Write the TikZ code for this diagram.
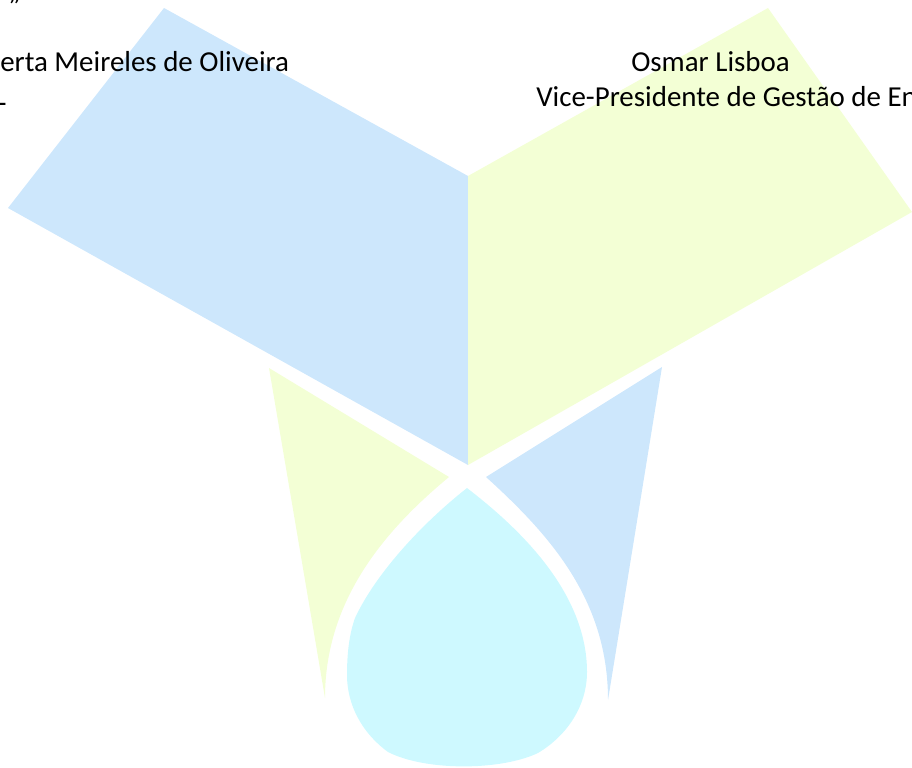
\documentclass[tikz,border=0pt]{standalone}
\usepackage{fontspec}
\setmainfont{Carlito}
\definecolor{softblue}{HTML}{CDE7FC}
\definecolor{softgreen}{HTML}{F3FFD5}
\definecolor{softcyan}{HTML}{CEF9FF}
\tikzset{
  px/.style={x=0.75pt,y=-0.75pt},
  label/.style={inner sep=0pt,anchor=base west,text=black,font=\fontsize{21.7pt}{26pt}\selectfont}
}
\begin{document}
\begin{tikzpicture}[px]
\useasboundingbox (0,0) rectangle (912,767);
\clip (0,0) rectangle (912,767);
\fill[softblue] (164,8) -- (468,176) -- (468,465) -- (8,208) -- cycle;
\fill[softgreen] (468,176) -- (768,8) -- (912,212) -- (468,465) -- cycle;
\fill[softgreen] (269,368) -- (449,477) .. controls (385,530) and (325,600) .. (325,698) -- cycle;
\fill[softblue] (662,367) -- (486,477) .. controls (550,535) and (608,600) .. (608,700) -- cycle;
\fill[softcyan] (467,488) .. controls (515,525) and (587,590) .. (587,672)
  .. controls (587,705) and (568,735) .. (538,753)
  .. controls (500,771) and (425,771) .. (388,752)
  .. controls (362,733) and (347,705) .. (347,675)
  .. controls (347,650) and (350,632) .. (355,618)
  .. controls (375,575) and (420,525) .. (467,488) -- cycle;
\node[label] (topmark) at (8,-0.5) {,,};
\node[label] (name1) at (0,71) {erta Meireles de Oliveira};
\node[label] (role1) at (-6.5,105) {L};
\node[label] (name2) at (631,71) {Osmar Lisboa};
\node[label] (role2) at (536,106) {Vice-Presidente de Gestão de En};
\end{tikzpicture}
\end{document}
